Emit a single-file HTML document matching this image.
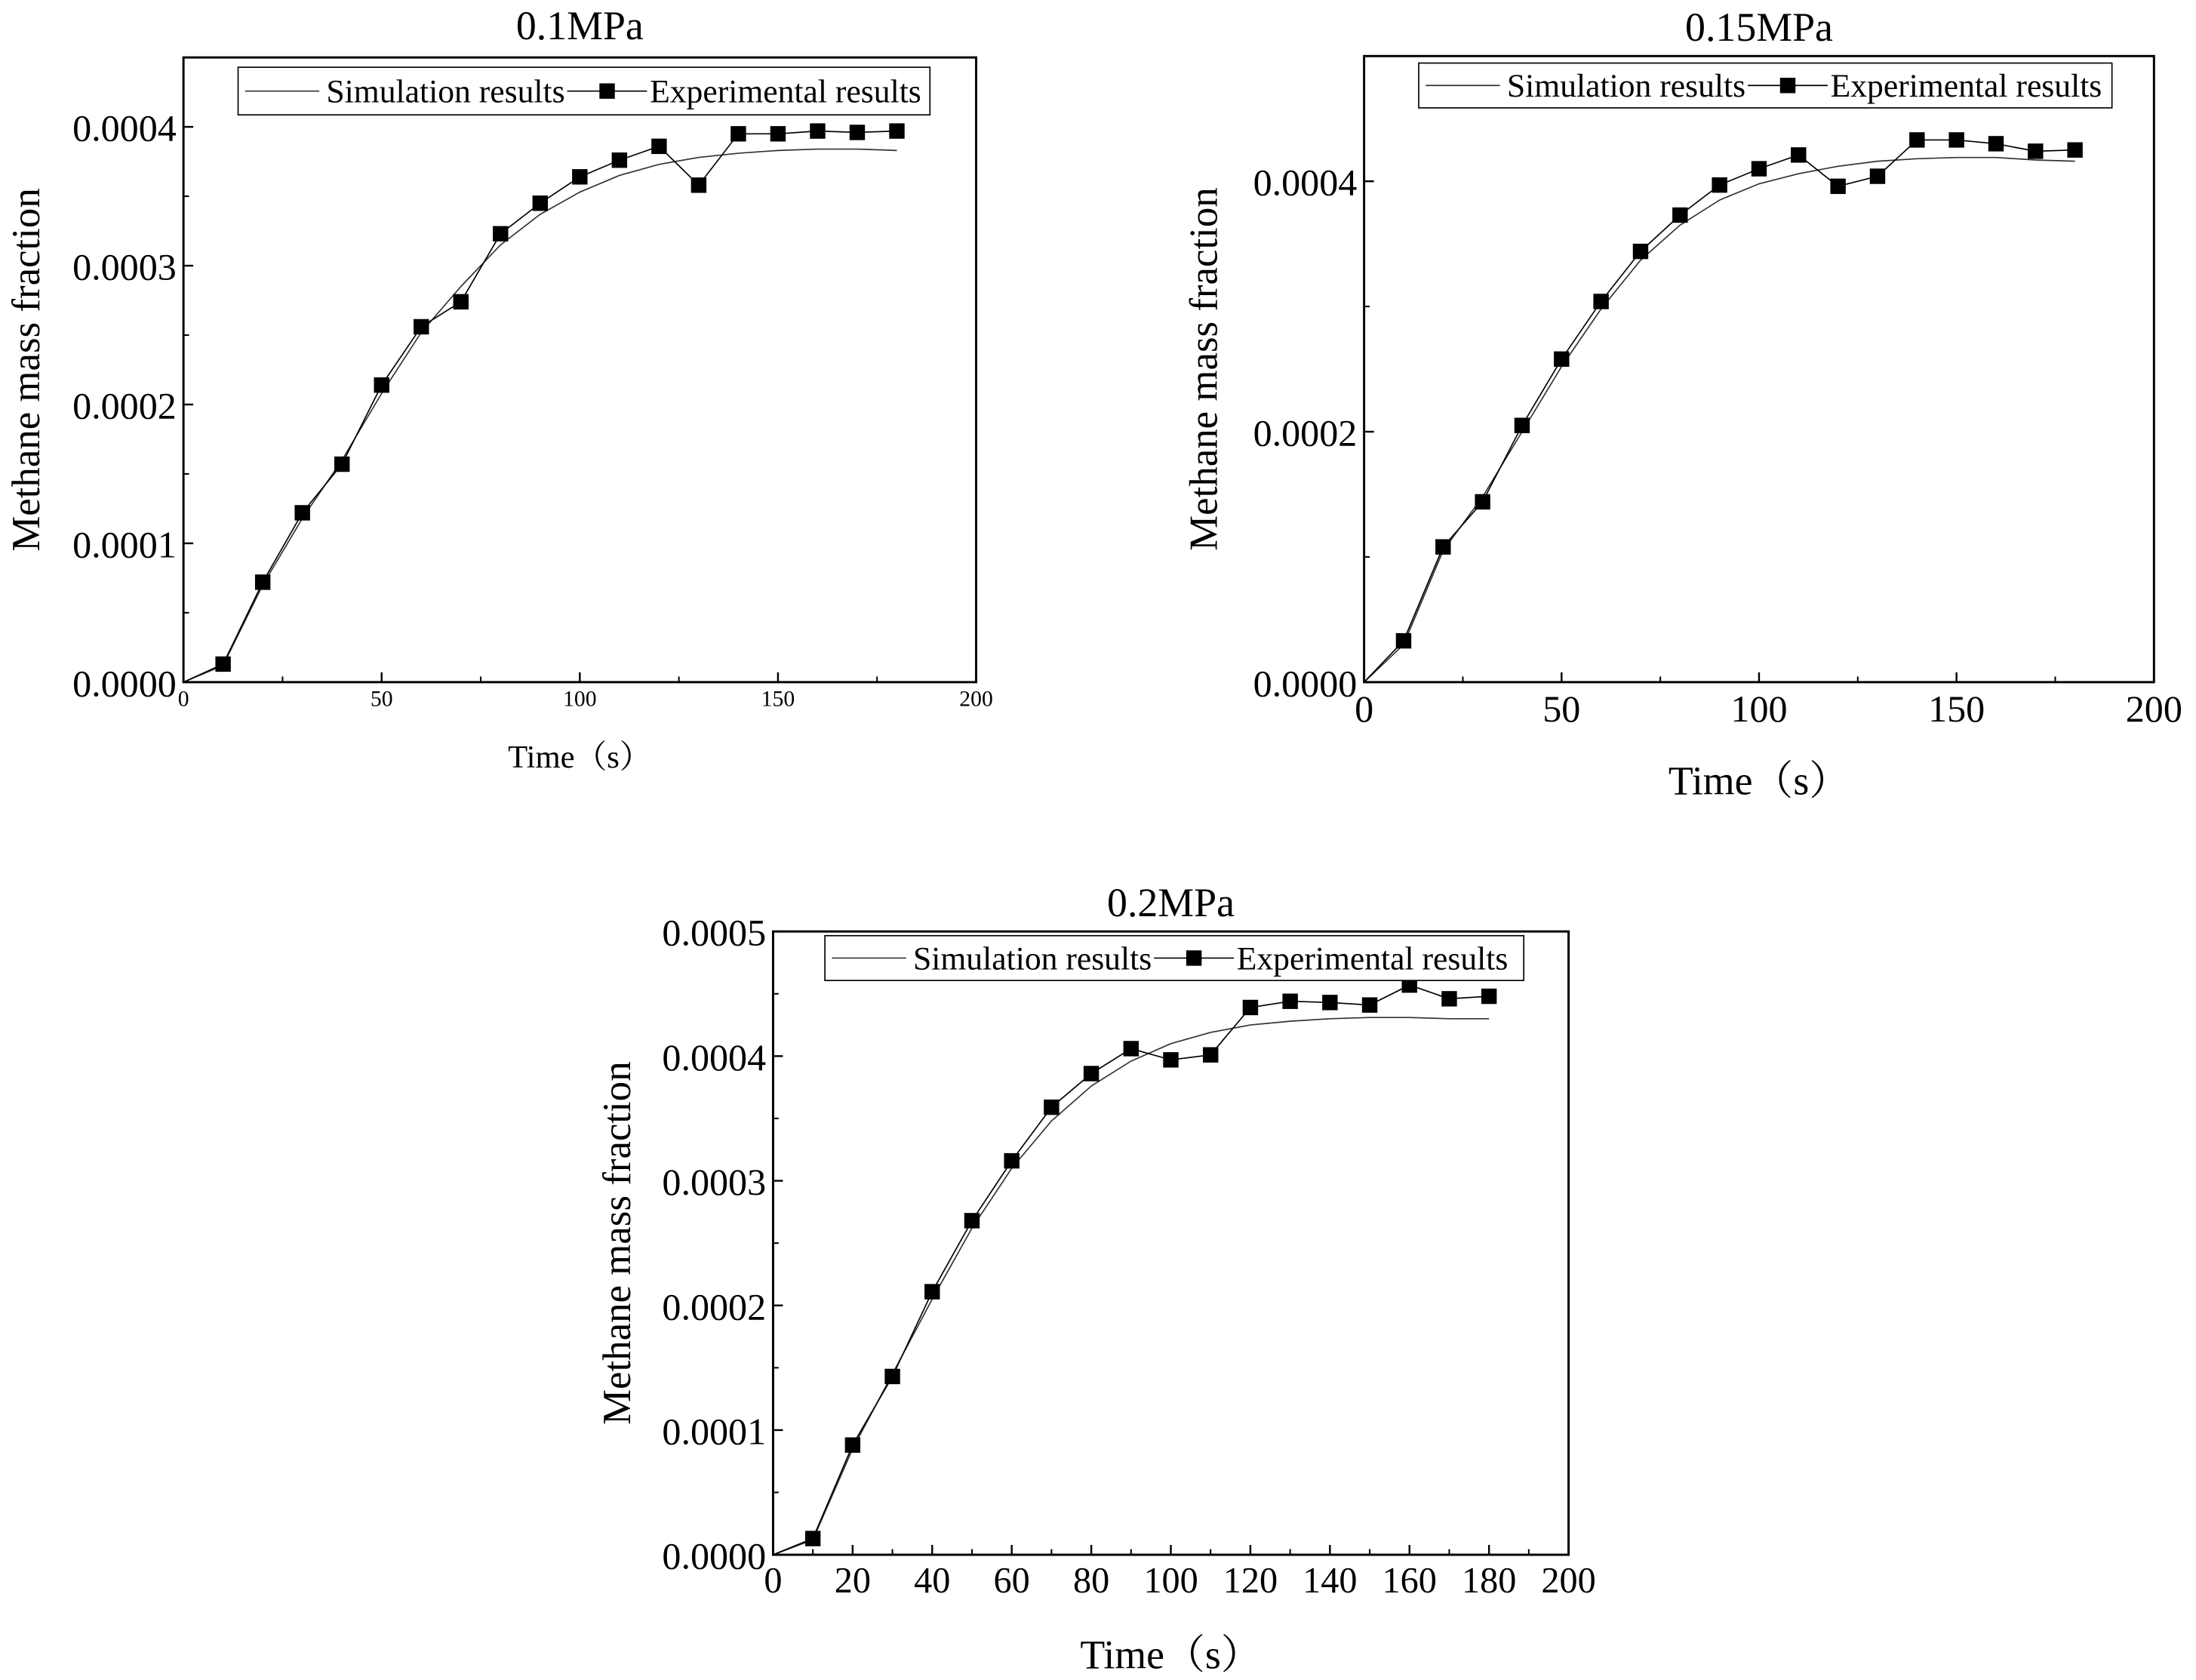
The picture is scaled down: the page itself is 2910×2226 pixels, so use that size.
<!DOCTYPE html>
<html><head><meta charset="utf-8">
<style>
html,body{margin:0;padding:0;background:#fff;}
svg{display:block;font-family:"Liberation Serif","Noto Serif CJK SC",serif;}
</style></head>
<body>
<svg id="fig" width="2910" height="2226" viewBox="0 0 1568 1199.4" xmlns="http://www.w3.org/2000/svg"></svg>
<script>
const times = [0,10,20,30,40,50,60,70,80,90,100,110,120,130,140,150,160,170,180];
const expTimes = [10,20,30,40,50,60,70,80,90,100,110,120,130,140,150,160,170,180];
const sim1 = [0,0.000012,0.000070,0.000118,0.000160,0.000208,0.000252,0.000285,0.000315,0.000337,0.000353,0.000365,0.000373,0.000378,0.000381,0.000383,0.000384,0.000384,0.000383];
const exp1 = [0.000013,0.000072,0.000122,0.000157,0.000214,0.000256,0.000274,0.000323,0.000345,0.000364,0.000376,0.000386,0.000358,0.000395,0.000395,0.000397,0.000396,0.000397];
const sim2 = [0,0.000030,0.000105,0.000148,0.000200,0.000252,0.000298,0.000337,0.000365,0.000385,0.000398,0.000406,0.000412,0.000416,0.000418,0.000419,0.000419,0.000417,0.000416];
const exp2 = [0.000033,0.000108,0.000144,0.000205,0.000258,0.000304,0.000344,0.000373,0.000397,0.000410,0.000421,0.000396,0.000404,0.000433,0.000433,0.000430,0.000424,0.000425];
const sim3 = [0,0.000012,0.000085,0.000145,0.000205,0.000262,0.000310,0.000348,0.000376,0.000396,0.000410,0.000419,0.000425,0.000428,0.000430,0.000431,0.000431,0.000430,0.000430];
const exp3 = [0.000013,0.000088,0.000143,0.000211,0.000268,0.000316,0.000359,0.000386,0.000406,0.000397,0.000401,0.000439,0.000444,0.000443,0.000441,0.000457,0.000446,0.000448];
const yTicks1 = ["0.0000","0.0001","0.0002","0.0003","0.0004"];
const yTicks2 = ["0.0000","0.0002","0.0004"];
const yTicks3 = ["0.0000","0.0001","0.0002","0.0003","0.0004","0.0005"];
const xTicks12 = [0,50,100,150,200];
const xTicks3 = [0,20,40,60,80,100,120,140,160,180,200];

const NS="http://www.w3.org/2000/svg";
const svg=document.getElementById('fig');
function mk(tag,attrs,parent){const e=document.createElementNS(NS,tag);for(const k in attrs)e.setAttribute(k,attrs[k]);(parent||svg).appendChild(e);return e;}

function chart(c){
  const g=mk('g',{});
  
  
  const X=t=>c.L+(t-0)/(200)*(c.R-c.L);
  const Y=v=>c.B-(v-0)/(c.ymax)*(c.B-c.T);
  const title=mk('text',{x:(c.L+c.R)/2,y:c.titleY,'text-anchor':'middle','font-size':c.titleSize},g);
  title.textContent=c.title;
  
  
  const frame=mk('rect',{x:c.L,y:c.T,width:c.R-c.L,height:c.B-c.T,fill:'none',stroke:'#000','stroke-width':1.6},g);
  
  
  c.yLabels.forEach(lbl=>{
    const v=parseFloat(lbl);const y=Y(v);
    mk('line',{x1:c.L,x2:c.L+7,y1:y,y2:y,stroke:'#000','stroke-width':1.3},g);
    const t=mk('text',{x:c.L-5,y:y+10,'text-anchor':'end','font-size':27},g);
    t.textContent=lbl;
    
    
  });
  for(let v=c.yMinorStep;v<c.ymax-1e-9;v+=c.yMinorStep*2){
    const y=Y(v);mk('line',{x1:c.L,x2:c.L+4,y1:y,y2:y,stroke:'#000','stroke-width':1.1},g);
  }
  c.xLabels.forEach(v=>{
    const x=X(v);
    mk('line',{x1:x,x2:x,y1:c.B,y2:c.B-7,stroke:'#000','stroke-width':1.3},g);
    const t=mk('text',{x:x,y:c.B+c.xFont+1,'text-anchor':'middle','font-size':c.xFont},g);
    t.textContent=v;
    
    
  });
  for(let v=c.xMinorStep;v<200;v+=c.xMinorStep*2){
    const x=X(v);mk('line',{x1:x,x2:x,y1:c.B,y2:c.B-4,stroke:'#000','stroke-width':1.1},g);
  }
  const xt=mk('text',{x:(c.L+c.R)/2,y:c.xTitleY,'text-anchor':'middle','font-size':c.titleFont},g);
  xt.textContent='Time（s）';
  
  
  const yt=mk('text',{x:0,y:0,'text-anchor':'middle','font-size':28.5,transform:`translate(${c.yTitleX},${(c.T+c.B)/2}) rotate(-90)`},g);
  yt.textContent='Methane mass fraction';
  
  
  const sp=mk('polyline',{points:times.map((t,i)=>X(t)+','+Y(c.sim[i])).join(' '),fill:'none',stroke:'#333','stroke-width':0.9},g);
  
  
  const ep=mk('polyline',{points:[X(0)+','+Y(0)].concat(expTimes.map((t,i)=>X(t)+','+Y(c.exp[i]))).join(' '),fill:'none',stroke:'#000','stroke-width':0.9},g);
  
  
  expTimes.forEach((t,i)=>{
    const m=mk('rect',{x:X(t)-5.5,y:Y(c.exp[i])-5.5,width:11,height:11,fill:'#000'},g);
    
    
  });
  const lg=mk('g',{},g);
  
  
  const lx=c.legX, ly=c.legY, lw=c.legW, lh=c.legH;
  mk('rect',{x:lx,y:ly,width:lw,height:lh,fill:'#fff',stroke:'#000','stroke-width':0.9},lg);
  const cy=ly+lh/2;
  mk('line',{x1:lx+5,x2:lx+58,y1:cy,y2:cy,stroke:'#333','stroke-width':0.9},lg);
  const t1=mk('text',{x:lx+63,y:cy+8,'font-size':23.5},lg);
  t1.textContent='Simulation results';
  
  
  mk('line',{x1:lx+235,x2:lx+292,y1:cy,y2:cy,stroke:'#000','stroke-width':0.9},lg);
  mk('rect',{x:lx+258,y:cy-5.5,width:11,height:11,fill:'#000'},lg);
  const t2=mk('text',{x:lx+294,y:cy+8,'font-size':23.5},lg);
  t2.textContent='Experimental results';
  
  
}

chart({name:'chart-0.1mpa',title:'0.1MPa',titleSize:29,L:131,R:697,T:41,B:487,ymax:0.00045,sim:sim1,exp:exp1,
  yLabels:yTicks1,yMinorStep:0.00005,xLabels:xTicks12,xMinorStep:25,xFont:16,titleY:28,
  xTitleY:548,titleFont:23,yTitleX:28,legX:170,legY:48,legW:494,legH:34});
chart({name:'chart-0.15mpa',title:'0.15MPa',titleSize:29,L:974,R:1538,T:40,B:487,ymax:0.0005,sim:sim2,exp:exp2,
  yLabels:yTicks2,yMinorStep:0.0001,xLabels:xTicks12,xMinorStep:25,xFont:27,titleY:29,
  xTitleY:567,titleFont:29,yTitleX:869,legX:1013,legY:45,legW:495,legH:32});
chart({name:'chart-0.2mpa',title:'0.2MPa',titleSize:29,L:552,R:1120,T:665,B:1110,ymax:0.0005,sim:sim3,exp:exp3,
  yLabels:yTicks3,yMinorStep:0.00005,xLabels:xTicks3,xMinorStep:10,xFont:26,titleY:654,
  xTitleY:1191,titleFont:29,yTitleX:450,legX:589,legY:668,legW:499,legH:32});
</script>
</body></html>
